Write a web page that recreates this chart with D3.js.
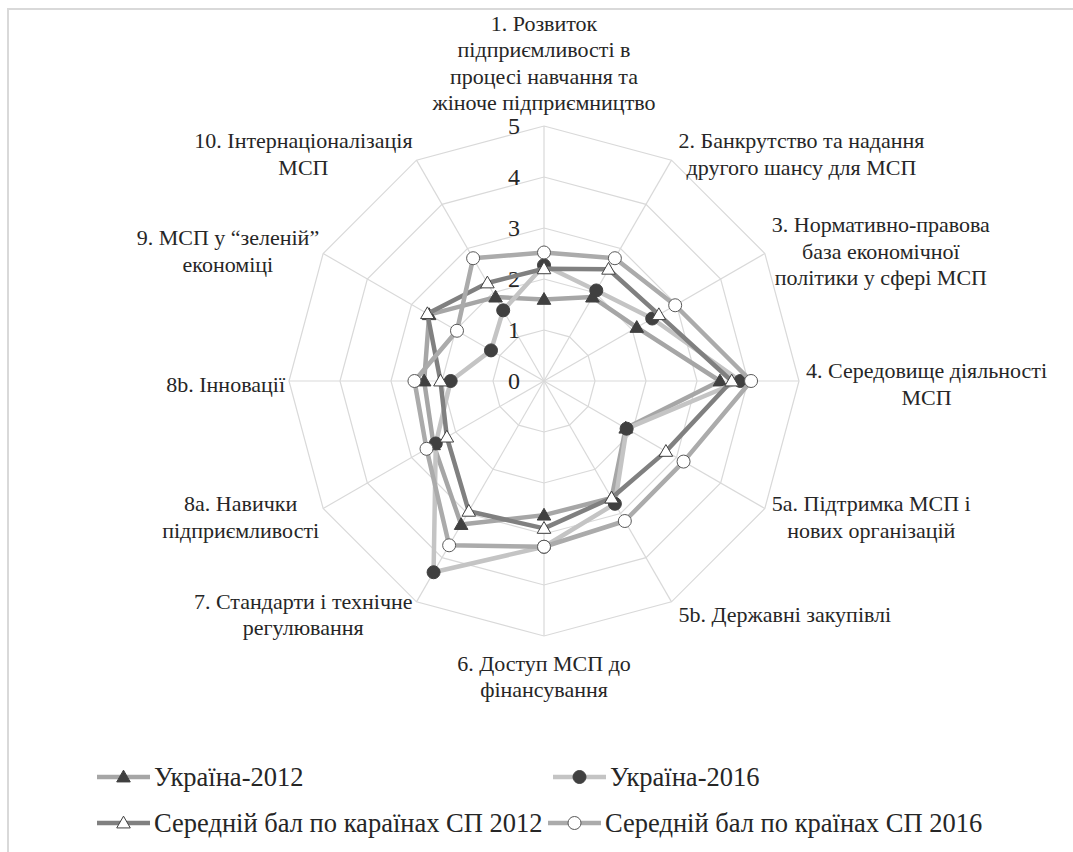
<!DOCTYPE html>
<html>
<head>
<meta charset="utf-8">
<script src="https://cdn.jsdelivr.net/npm/d3@7"></script>
<style>
  body { margin: 0; background: #fff; }
  svg { display: block; }
  text { font-family: "Liberation Serif", "DejaVu Serif", serif; }
</style>
</head>
<body>
<svg id="chart" width="1073" height="852"></svg>
<script>
// Axis categories (multi-line labels)
var categories = [
  ["1. Розвиток", "підприємливості в", "процесі навчання та", "жіноче підприємництво"],
  ["2. Банкрутство та надання", "другого шансу для МСП"],
  ["3. Нормативно-правова", "база економічної", "політики у сфері МСП"],
  ["4. Середовище діяльності", "МСП"],
  ["5а. Підтримка МСП і", "нових організацій"],
  ["5b. Державні закупівлі"],
  ["6. Доступ МСП до", "фінансування"],
  ["7. Стандарти і технічне", "регулювання"],
  ["8а. Навички", "підприємливості"],
  ["8b. Інновації"],
  ["9. МСП у “зеленій”", "економіці"],
  ["10. Інтернаціоналізація", "МСП"]
];

// Series values, one per axis, in the same order as categories
var ukraine2012 = [1.6, 1.9, 2.1, 3.45, 1.85, 2.65, 2.63, 3.25, 2.5, 2.35, 2.6, 1.9];
var ukraine2016 = [2.27, 2.05, 2.45, 3.85, 1.87, 2.78, 3.25, 4.33, 2.45, 1.83, 1.2, 1.6];
var sp2012 = [2.2, 2.53, 2.6, 3.68, 2.76, 2.65, 2.89, 2.95, 2.2, 2.03, 2.64, 2.22];
var sp2016 = [2.52, 2.78, 2.97, 4.06, 3.16, 3.17, 3.25, 3.72, 2.66, 2.54, 1.97, 2.78];

var seriesNames = ["Україна-2012", "Україна-2016", "Середній бал по караїнах СП 2012", "Середній бал по країнах СП 2016"];

// Radial tick labels
var ticks = [0, 1, 2, 3, 4, 5];

var FONT = "Liberation Serif";

var series = [
  { name: seriesNames[0], values: ukraine2012, line: "#a6a6a6", marker: "triangle", fill: "#404040", stroke: "#404040" },
  { name: seriesNames[1], values: ukraine2016, line: "#c4c4c4", marker: "circle", fill: "#404040", stroke: "#404040" },
  { name: seriesNames[2], values: sp2012, line: "#808080", marker: "triangle", fill: "#fff", stroke: "#404040" },
  { name: seriesNames[3], values: sp2016, line: "#ababab", marker: "circle", fill: "#fff", stroke: "#595959" }
];

var svg = d3.select("#chart").attr("font-family", FONT);
var cx = 544, cy = 381, R = 255;

// Outer chart border (only top/left visible in the crop)
svg.append("rect")
  .attr("x", 8).attr("y", 9)
  .attr("width", 1200).attr("height", 1000)
  .attr("fill", "#fff")
  .attr("stroke", "#d9d9d9")
  .attr("stroke-width", 2);

var r = d3.scaleLinear().domain([0, 5]).range([0, R]);
var angle = d3.scaleLinear().domain([0, categories.length]).range([0, 2 * Math.PI]);

function point(i, v) {
  var a = angle(i);
  return [cx + r(v) * Math.sin(a), cy - r(v) * Math.cos(a)];
}

var grid = svg.append("g").attr("class", "grid");

// Concentric polygons
grid.selectAll("polygon")
  .data(ticks.slice(1))
  .enter()
  .append("polygon")
  .attr("points", function (t) {
    return categories.map(function (c, i) { return point(i, t).join(","); }).join(" ");
  })
  .attr("fill", "none")
  .attr("stroke", "#d9d9d9")
  .attr("stroke-width", 1.2);

// Spokes
grid.selectAll("line")
  .data(categories)
  .enter()
  .append("line")
  .attr("x1", cx).attr("y1", cy)
  .attr("x2", function (c, i) { return point(i, 5)[0]; })
  .attr("y2", function (c, i) { return point(i, 5)[1]; })
  .attr("stroke", "#d9d9d9")
  .attr("stroke-width", 1.2);

// Tick labels along the top axis
svg.append("g").selectAll("text")
  .data(ticks)
  .enter()
  .append("text")
  .attr("font-family", FONT)
  .attr("x", cx - 24)
  .attr("y", function (t) { return cy - r(t); })
  .attr("dy", "0.35em")
  .attr("text-anchor", "end")
  .attr("font-size", 24)
  .attr("fill", "#262626")
  .text(function (t) { return t; });

// Axis labels
var labels = svg.append("g").attr("class", "axis-labels");
var lineH = 26.5;
categories.forEach(function (lines, i) {
  var a = angle(i);
  var p = point(i, 5);
  var sx = Math.sin(a), cyA = Math.cos(a);
  var g = labels.append("g");
  var texts = g.selectAll("text")
    .data(lines)
    .enter()
    .append("text")
    .attr("font-family", FONT)
    .attr("font-size", 22)
    .attr("fill", "#262626")
    .attr("text-anchor", "middle")
    .text(function (d) { return d; });
  var w = d3.max(texts.nodes(), function (n) { return n.getComputedTextLength(); });
  var h = lines.length * lineH;
  var bx, top;
  if (sx > 0.01) { bx = p[0] + 7 + w / 2; }
  else if (sx < -0.01) { bx = p[0] - 4 - w / 2; }
  else { bx = p[0]; }
  if (Math.abs(sx) > 0.01) { top = p[1] - h / 2 + 3 - 11 * cyA; }
  else if (cyA > 0) { top = p[1] - 10 - h; }
  else { top = p[1] + 14; }
  texts.attr("x", bx)
    .attr("y", function (d, j) { return top + j * lineH + lineH / 2; })
    .attr("dy", "0.35em");
});

// Series lines and markers
var lineGen = d3.line()
  .x(function (d) { return d[0]; })
  .y(function (d) { return d[1]; })
  .curve(d3.curveLinearClosed);

var triangle = d3.symbol().type(d3.symbolTriangle).size(80);

series.forEach(function (s) {
  var pts = s.values.map(function (v, i) { return point(i, v); });
  var g = svg.append("g").attr("class", "series");
  g.append("path")
    .attr("d", lineGen(pts))
    .attr("fill", "none")
    .attr("stroke", s.line)
    .attr("stroke-width", 4.5)
    .attr("stroke-linejoin", "round");
  drawMarkers(g, pts, s);
});

function drawMarkers(g, pts, s) {
  if (s.marker === "circle") {
    g.selectAll("circle")
      .data(pts)
      .enter()
      .append("circle")
      .attr("cx", function (d) { return d[0]; })
      .attr("cy", function (d) { return d[1]; })
      .attr("r", 6.5)
      .attr("fill", s.fill)
      .attr("stroke", s.stroke)
      .attr("stroke-width", 1);
  } else {
    g.selectAll("path.m")
      .data(pts)
      .enter()
      .append("path")
      .attr("class", "m")
      .attr("d", triangle)
      .attr("transform", function (d) { return "translate(" + d[0] + "," + (d[1] + 1) + ")"; })
      .attr("fill", s.fill)
      .attr("stroke", s.stroke)
      .attr("stroke-width", 1);
  }
}

// Legend
var legendPos = [[97, 777], [553, 777], [97, 823], [548, 823]];
var legend = svg.append("g").attr("class", "legend");
series.forEach(function (s, i) {
  var x = legendPos[i][0], y = legendPos[i][1];
  var g = legend.append("g");
  g.append("line")
    .attr("x1", x).attr("x2", x + 53)
    .attr("y1", y).attr("y2", y)
    .attr("stroke", s.line)
    .attr("stroke-width", 4.5);
  drawMarkers(g, [[x + 26.5, y]], s);
  g.append("text")
    .attr("font-family", FONT)
    .attr("x", x + 57)
    .attr("y", y)
    .attr("dy", "0.35em")
    .attr("font-size", 26.5)
    .attr("fill", "#262626")
    .text(s.name);
});
</script>
</body>
</html>
